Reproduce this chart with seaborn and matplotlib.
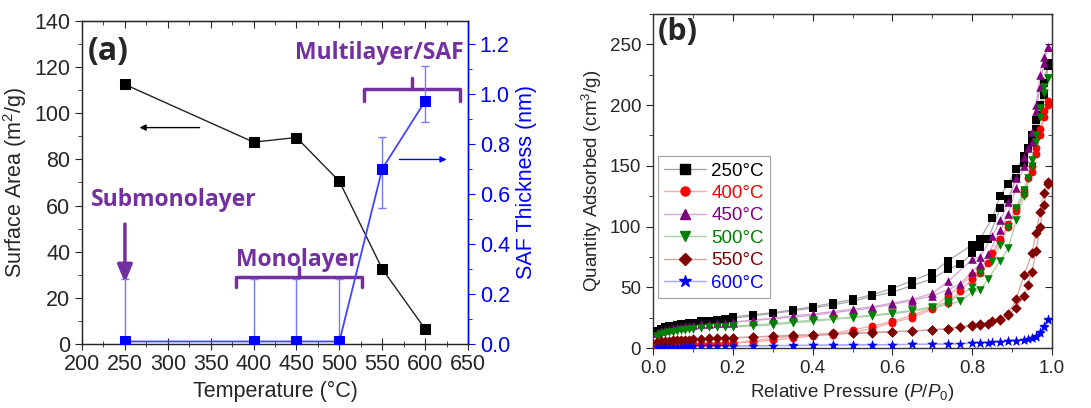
import matplotlib
matplotlib.use("Agg")
import matplotlib.pyplot as plt
import matplotlib.colors as mcolors
from matplotlib.lines import Line2D
from matplotlib.ticker import MultipleLocator
import seaborn as sns

# (a) surface area and SAF thickness vs temperature
temps = [250, 400, 450, 500, 550, 600]
surface_area = [112.5, 87.5, 89.5, 70.5, 32.5, 6.5]
saf_thick = [0.01, 0.01, 0.01, 0.01, 0.70, 0.97]
saf_err_low = [0.25, 0.25, 0.25, 0.25, 0.155, 0.085]
saf_err_high = [0.25, 0.25, 0.25, 0.25, 0.125, 0.14]

# (b) N2 isotherms, adsorption + desorption branches
ads_p = [0.01, 0.02, 0.03, 0.04, 0.05, 0.06, 0.07, 0.08, 0.09, 0.10,
         0.12, 0.14, 0.16, 0.18, 0.20, 0.25, 0.30, 0.35, 0.40, 0.45,
         0.50, 0.55, 0.60, 0.65, 0.70, 0.74, 0.77, 0.80, 0.82, 0.84,
         0.87, 0.89, 0.91, 0.93, 0.95, 0.96, 0.97, 0.98, 0.99]
des_p = [0.99, 0.98, 0.97, 0.96, 0.95, 0.94, 0.93, 0.91, 0.89, 0.87,
         0.85, 0.82, 0.80, 0.74, 0.70, 0.65, 0.60, 0.55, 0.50, 0.45,
         0.40, 0.35, 0.30, 0.25, 0.20]

ads_250 = [14, 16, 17, 18, 18.5, 19, 19.5, 20, 20.5, 21, 22, 22.5, 23, 24, 24.5,
           26.5, 28.5, 30.5, 33, 35.5, 38.5, 42.5, 46, 51.5, 57, 65, 69, 78, 83, 90,
           115, 123, 140, 152, 170, 180, 192, 208, 232]
des_250 = [235, 218, 200, 188, 175, 165, 158, 147, 135, 125, 107, 90, 85, 72, 62,
           55.5, 49, 44, 40, 37, 34, 31.5, 29, 27.5, 25.5]
ads_400 = [1.5, 1.8, 2, 2.2, 2.4, 2.5, 2.6, 2.7, 2.8, 3, 3.2, 3.4, 3.6, 3.8, 4,
           5, 6.5, 8, 10, 11, 13, 16, 21, 25, 32, 37, 47, 57, 62, 70,
           88, 100, 113, 127, 145, 160, 175, 190, 200]
des_400 = [203, 195, 180, 165, 150, 140, 130, 115, 102, 90, 78, 65, 60, 43, 33,
           27, 22, 18, 15, 12, 10.5, 9.5, 8, 6, 4]
ads_450 = [12, 14, 15, 16, 16.5, 17, 17.5, 18, 18.5, 19, 19.5, 20, 20.5, 21, 21.5,
           22.5, 24, 25.5, 27, 29, 31, 33, 36, 39, 43, 48, 53, 63, 69, 77,
           97, 110, 132, 150, 170, 195, 215, 235, 248]
des_450 = [248, 240, 225, 200, 178, 165, 157, 140, 120, 105, 92, 75, 73, 55, 45,
           40, 37, 34, 32, 30, 28, 26.5, 24.5, 23, 21]
ads_500 = [10, 11.5, 12.5, 13, 13.5, 14, 14.5, 15, 15.5, 16, 16.5, 17, 17, 17.5, 17.5,
           18, 19, 20.5, 22, 23.5, 25, 26.5, 28, 30.5, 33, 36, 38.5, 46, 48, 57,
           72, 82, 105, 125, 150, 170, 190, 210, 222]
des_500 = [222, 215, 198, 175, 155, 140, 130, 115, 100, 85, 72, 62, 50, 38, 34,
           31, 29, 27, 25.5, 24, 23, 21.5, 20, 19, 18]
ads_550 = [5, 5.5, 6, 6, 6.5, 6.5, 7, 7, 7, 7.5, 7.5, 8, 8, 8, 8.5,
           9, 9.5, 10, 11, 11.5, 12, 12.5, 13.5, 14, 15, 16, 17, 18, 19, 20,
           23, 28, 40, 60, 78, 95, 112, 128, 137]
des_550 = [135, 118, 100, 80, 63, 52, 43, 33, 27, 24, 22, 20, 19, 16, 15,
           14, 13.5, 13, 12.5, 12, 11, 10.5, 10, 9, 8.5]
ads_600 = [1, 1, 1, 1, 1.2, 1.2, 1.2, 1.3, 1.3, 1.3, 1.4, 1.4, 1.5, 1.5, 1.5,
           1.7, 2, 2, 2.2, 2.3, 2.5, 2.6, 2.8, 3, 3, 3.2, 3.5, 3.8, 4, 4.5,
           5, 5.5, 6, 7, 8, 9, 12, 17, 23]
des_600 = [24, 18, 13, 10, 8.5, 7.5, 7, 6, 5.5, 5, 4.8, 4.5, 4, 3.5, 3.3,
           3, 2.8, 2.7, 2.5, 2.4, 2.3, 2.2, 2, 1.8, 1.6]

labels = ["250°C", "400°C", "450°C", "500°C", "550°C", "600°C"]
colors = ["#000000", "#FF0000", "#800080", "#008000", "#800000", "#0000FF"]
markers = ["s", "o", "^", "v", "D", "*"]
msizes = [30, 32, 38, 38, 28, 60]
ads_all = [ads_250, ads_400, ads_450, ads_500, ads_550, ads_600]
des_all = [des_250, des_400, des_450, des_500, des_550, des_600]

sns.set_style("ticks")
plt.rcParams["font.family"] = ["Liberation Sans", "DejaVu Sans"]
plt.rcParams["mathtext.fontset"] = "custom"
plt.rcParams["mathtext.rm"] = "Liberation Sans"
plt.rcParams["mathtext.it"] = "Liberation Sans:italic"

purple = "#7330A0"
blue = "#0000FF"

fig = plt.figure(figsize=(10.91, 4.08), dpi=100)
axa = fig.add_axes([0.0752, 0.1569, 0.3538, 0.7916])
axb = fig.add_axes([0.5985, 0.147, 0.3658, 0.8187])

# ---- panel (a)
sns.lineplot(x=temps, y=surface_area, color="#222222", lw=1.0, marker="s",
             markersize=7, markeredgecolor="black", markerfacecolor="black",
             ax=axa, zorder=3)
axa.set_xlim(200, 650)
axa.set_ylim(0, 140)
axa.xaxis.set_major_locator(MultipleLocator(50))
axa.xaxis.set_minor_locator(MultipleLocator(25))
axa.yaxis.set_major_locator(MultipleLocator(20))
axa.yaxis.set_minor_locator(MultipleLocator(10))
axa.tick_params(axis="x", which="major", direction="inout", length=8, labelsize=15.5)
axa.tick_params(axis="x", which="minor", direction="inout", length=5)
axa.tick_params(axis="y", which="major", direction="out", length=5, labelsize=15.5)
axa.tick_params(axis="y", which="minor", direction="out", length=3)
axa.set_xlabel("Temperature (°C)", fontsize=15.5)
axa.set_ylabel("Surface Area (m$^2$/g)", fontsize=15.5)
for s in axa.spines.values():
    s.set_linewidth(1.0)
    s.set_color("#333333")

top_a = axa.secondary_xaxis("top")
top_a.xaxis.set_major_locator(MultipleLocator(50))
top_a.xaxis.set_minor_locator(MultipleLocator(25))
top_a.tick_params(which="both", direction="in", labeltop=False)
top_a.tick_params(which="major", length=5)
top_a.tick_params(which="minor", length=3)

axr = axa.twinx()
axr.errorbar(temps, saf_thick, yerr=[saf_err_low, saf_err_high], fmt="none",
             ecolor="#7777FF", elinewidth=1.0, capsize=3, capthick=1.0, zorder=2)
sns.lineplot(x=temps, y=saf_thick, color="#4444FF", lw=1.3, marker="s",
             markersize=7, markeredgecolor=blue, markerfacecolor=blue,
             ax=axr, zorder=3)
axr.set_ylim(0, 1.29)
axr.yaxis.set_major_locator(MultipleLocator(0.2))
axr.yaxis.set_minor_locator(MultipleLocator(0.1))
axr.yaxis.set_major_formatter(matplotlib.ticker.FormatStrFormatter("%.1f"))
axr.tick_params(axis="y", which="major", direction="out", length=5, colors=blue,
                labelsize=15.5)
axr.tick_params(axis="y", which="minor", direction="out", length=3, colors=blue)
axr.spines["right"].set_color(blue)
axr.spines["right"].set_linewidth(1.0)
axr.set_ylabel("SAF Thickness (nm)", color=blue, fontsize=15.5)

# annotations on (a)
axa.text(207, 127, "(a)", fontsize=23, fontweight="bold", family="Open Sans",
         va="center", ha="left")
axa.text(546, 126, "Multilayer/SAF", fontsize=16.5, fontweight="bold",
         family="Open Sans", color=purple, ha="center", va="center")
axa.text(307, 62.5, "Submonolayer", fontsize=16.5, fontweight="bold",
         family="Open Sans", color=purple, ha="center", va="center")
axa.text(451, 36.5, "Monolayer", fontsize=16.5, fontweight="bold",
         family="Open Sans", color=purple, ha="center", va="center")
axa.annotate("", xy=(250, 26.5), xytext=(250, 52),
             arrowprops=dict(arrowstyle="-|>,head_length=0.6,head_width=0.25",
                             color=purple, lw=2.5, mutation_scale=18,
                             shrinkA=0, shrinkB=0))
axa.annotate("", xy=(267, 93.8), xytext=(337, 93.8),
             arrowprops=dict(arrowstyle="-|>", color="black", lw=1.0,
                             mutation_scale=9, shrinkA=0, shrinkB=0))
axr.annotate("", xy=(625, 0.737), xytext=(570, 0.737),
             arrowprops=dict(arrowstyle="-|>", color=blue, lw=1.0,
                             mutation_scale=9, shrinkA=0, shrinkB=0))

# brackets
for x0, x1, y0, dy in [(380, 526, 29, 4.5), (529, 641, 110.5, 5)]:
    xc = (x0 + x1) / 2
    axa.plot([x0, x0, x1, x1], [y0 - dy, y0, y0, y0 - dy], color=purple,
             lw=2.5, solid_joinstyle="round", solid_capstyle="round", zorder=4)
    axa.plot([xc, xc], [y0, y0 + dy], color=purple, lw=2.5,
             solid_capstyle="round", zorder=4)

# ---- panel (b)
handles = []
for lab, col, mk, ms, ads, des in zip(labels, colors, markers, msizes, ads_all, des_all):
    light = tuple(0.65 + 0.35 * c for c in mcolors.to_rgb(col))
    for p, q in ((ads_p, ads), (des_p, des)):
        sns.lineplot(x=p, y=q, sort=False, estimator=None, color=light, lw=0.9,
                     ax=axb, zorder=2)
        sns.scatterplot(x=p, y=q, color=col, marker=mk, s=ms, linewidth=0,
                        ax=axb, zorder=3)
    handles.append(Line2D([0], [0], color=light, lw=1.0, marker=mk,
                          markersize=6.5 if mk != "*" else 9,
                          markerfacecolor=col, markeredgecolor=col, label=lab))

axb.set_xlim(0, 1.0)
axb.set_ylim(0, 275)
axb.xaxis.set_major_locator(MultipleLocator(0.2))
axb.xaxis.set_minor_locator(MultipleLocator(0.1))
axb.xaxis.set_major_formatter(matplotlib.ticker.FormatStrFormatter("%.1f"))
axb.yaxis.set_major_locator(MultipleLocator(50))
axb.yaxis.set_minor_locator(MultipleLocator(25))
axb.tick_params(which="major", direction="out", length=5, labelsize=13.5)
axb.tick_params(which="minor", direction="out", length=3)
axb.set_xlabel("Relative Pressure ($P/P_0$)", fontsize=13.5)
axb.set_ylabel("Quantity Adsorbed (cm$^3$/g)", fontsize=13.5)
for s in axb.spines.values():
    s.set_linewidth(1.0)
    s.set_color("#333333")
top_b = axb.secondary_xaxis("top")
top_b.xaxis.set_major_locator(MultipleLocator(0.2))
top_b.xaxis.set_minor_locator(MultipleLocator(0.1))
top_b.tick_params(which="both", direction="in", labeltop=False)
top_b.tick_params(which="major", length=5)
top_b.tick_params(which="minor", length=3)
right_b = axb.secondary_yaxis("right")
right_b.yaxis.set_major_locator(MultipleLocator(50))
right_b.yaxis.set_minor_locator(MultipleLocator(25))
right_b.tick_params(which="both", direction="in", labelright=False)
right_b.tick_params(which="major", length=5)
right_b.tick_params(which="minor", length=3)

axb.text(0.012, 260, "(b)", fontsize=22, fontweight="bold", family="Open Sans",
         va="center", ha="left")
leg = axb.legend(handles=handles, loc="upper left", bbox_to_anchor=(0.012, 0.575),
                 fontsize=13.5, labelcolor=colors, frameon=True, fancybox=False,
                 edgecolor="#888888", handlelength=2.2, labelspacing=0.28,
                 borderpad=0.35, handletextpad=0.3, borderaxespad=0)
leg.get_frame().set_linewidth(0.8)

fig.savefig("out.png", dpi=100)
